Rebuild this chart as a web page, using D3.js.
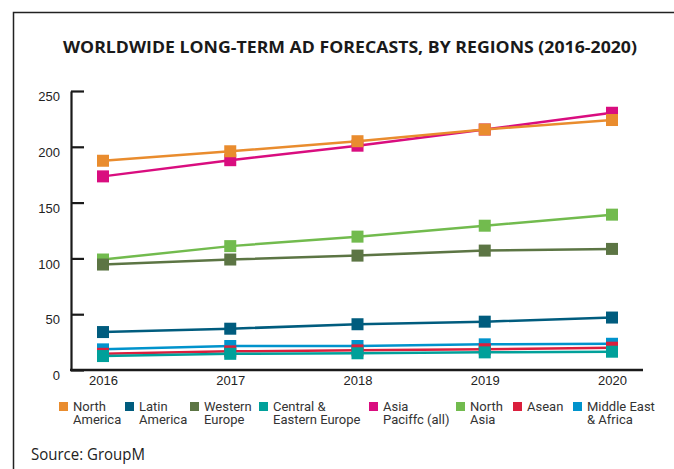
<!DOCTYPE html>
<html>
<head>
<meta charset="utf-8">
<script src="https://cdn.jsdelivr.net/npm/d3@7"></script>
<style>
  html, body { margin: 0; padding: 0; background: #fff; }
  svg { display: block; }
</style>
</head>
<body>
<svg id="chart" width="674" height="469"></svg>
<script>
// Years on the x axis
const years = ["2016", "2017", "2018", "2019", "2020"];

// Region names (legend order) and their colours
const regions = ["North America", "Latin America", "Western Europe", "Central & Eastern Europe",
                 "Asia Paciffc (all)", "North Asia", "Asean", "Middle East & Africa"];
const legendLines = [["North", "America"], ["Latin", "America"], ["Western", "Europe"],
                     ["Central &", "Eastern Europe"], ["Asia", "Paciffc (all)"],
                     ["North", "Asia"], ["Asean"], ["Middle East", "& Africa"]];
const colors = ["#e98c2e", "#005c7e", "#5c7544", "#00a09a", "#d90d7f", "#72bb4e", "#da1f3d", "#0093cc"];

// Ad spend forecasts per region, 2016-2020
const northAmerica   = [187.5, 196, 205, 215.5, 224];
const latinAmerica   = [34, 37, 41, 43.3, 47];
const westernEurope  = [94.5, 99, 102.5, 107, 108.5];
const centralEastEu  = [12.5, 14.5, 15, 15.8, 16.4];
const asiaPacific    = [173.5, 188, 201, 215.5, 230.5];
const northAsia      = [99, 111, 119.5, 129.3, 139.2];
const asean          = [14.5, 16.7, 17.6, 18.6, 20];
const middleEastAfr  = [18.5, 21.5, 21.5, 23, 23.5];

const seriesValues = [northAmerica, latinAmerica, westernEurope, centralEastEu,
                      asiaPacific, northAsia, asean, middleEastAfr];

// Y axis ticks
const yTicks = [0, 50, 100, 150, 200, 250];

const svg = d3.select("#chart");

// Frame around the graphic (open at the right and bottom)
svg.append("path")
  .attr("d", "M13.5,469 L13.5,12.5 L674,12.5")
  .attr("fill", "none")
  .attr("stroke", "#222")
  .attr("stroke-width", 1.5);

// Title
svg.append("text")
  .attr("x", 63).attr("y", 53)
  .attr("textLength", 574)
  .attr("lengthAdjust", "spacingAndGlyphs")
  .style("font-family", "'Open Sans', sans-serif")
  .style("font-weight", 700)
  .style("font-size", "16.5px")
  .attr("fill", "#1a1a1a")
  .text("WORLDWIDE LONG-TERM AD FORECASTS, BY REGIONS (2016-2020)");

const x = d3.scalePoint().domain(years).range([103, 612]);
const y = d3.scaleLinear().domain([0, 250]).range([370, 91]);

// Y axis with inward ticks
const yAxis = svg.append("g")
  .attr("transform", "translate(71,0)")
  .call(d3.axisLeft(y).tickValues(yTicks).tickSize(-13).tickPadding(11).tickSizeOuter(0));
yAxis.select(".domain").attr("stroke", "#1a1a1a").attr("stroke-width", 2.2);
yAxis.selectAll(".tick line").attr("stroke", "#1a1a1a").attr("stroke-width", 2.2);
yAxis.selectAll(".tick text")
  .attr("dy", "0.75em")
  .attr("x", -11)
  .style("font-family", "'Liberation Sans', Arial, sans-serif")
  .style("font-size", "13px")
  .attr("fill", "#222");

// X axis: baseline line plus year labels
const xAxis = svg.append("g")
  .attr("transform", "translate(0,370)")
  .call(d3.axisBottom(x).tickSize(0).tickPadding(6));
xAxis.select(".domain").remove();
xAxis.append("line")
  .attr("x1", 70).attr("x2", 643)
  .attr("stroke", "#1a1a1a").attr("stroke-width", 2.5);
xAxis.selectAll(".tick text")
  .attr("dy", "0.71em")
  .style("font-family", "'Liberation Sans', Arial, sans-serif")
  .style("font-size", "13px")
  .attr("fill", "#222");

// Series: lines with square markers, drawn last-to-first so earlier regions sit on top
const line = d3.line().x((d, i) => x(years[i])).y(d => y(d));
const ms = 12;
d3.range(regions.length).reverse().forEach(k => {
  const g = svg.append("g").attr("class", "series");
  g.append("path")
    .datum(seriesValues[k])
    .attr("d", line)
    .attr("fill", "none")
    .attr("stroke", colors[k])
    .attr("stroke-width", 2.5);
  g.selectAll("rect")
    .data(seriesValues[k])
    .join("rect")
    .attr("x", (d, i) => x(years[i]) - ms / 2)
    .attr("y", d => y(d) - ms / 2)
    .attr("width", ms).attr("height", ms)
    .attr("fill", colors[k]);
});

// Legend
const legendX = [59, 125, 190, 259, 369, 456, 513, 573];
const legend = svg.append("g");
regions.forEach((r, k) => {
  const g = legend.append("g").attr("transform", `translate(${legendX[k]},402)`);
  g.append("rect").attr("width", 9).attr("height", 9).attr("fill", colors[k]);
  const t = g.append("text")
    .attr("x", 14).attr("y", 9)
    .style("font-family", "Roboto, sans-serif")
    .style("font-size", "13px")
    .attr("fill", "#333");
  legendLines[k].forEach((s, j) => {
    t.append("tspan").attr("x", 14).attr("dy", j === 0 ? 0 : 13).text(s);
  });
});

// Source note
svg.append("text")
  .attr("x", 31).attr("y", 460)
  .attr("textLength", 114)
  .attr("lengthAdjust", "spacingAndGlyphs")
  .style("font-family", "'Open Sans', sans-serif")
  .style("font-size", "17px")
  .attr("fill", "#222")
  .text("Source: GroupM");
</script>
</body>
</html>
